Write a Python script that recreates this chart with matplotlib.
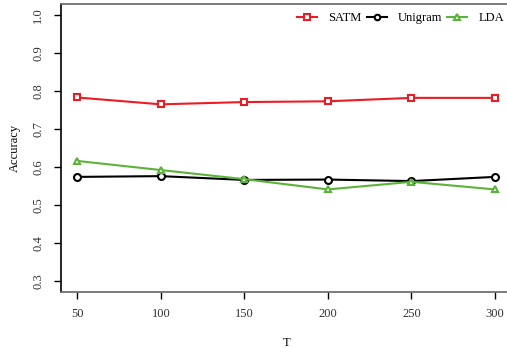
import matplotlib

matplotlib.use("Agg")
import matplotlib.pyplot as plt

plt.rcParams["font.family"] = ["Liberation Serif", "DejaVu Serif"]

T = [50, 100, 150, 200, 250, 300]
satm = [0.783, 0.765, 0.771, 0.773, 0.782, 0.782]
unigram = [0.574, 0.576, 0.566, 0.567, 0.563, 0.574]
lda = [0.616, 0.592, 0.568, 0.541, 0.561, 0.541]
yticks = [0.3, 0.4, 0.5, 0.6, 0.7, 0.8, 0.9, 1.0]

fig = plt.figure(figsize=(5.07, 3.48), dpi=100)
# axes runs a little past the right edge of the figure
ax = fig.add_axes([0.1197, 0.162, 0.8895, 0.8253])

style = dict(lw=1.5, ms=5, mew=1.5, mfc="white")
ax.plot(T, satm, color="#ec1c24", marker="s", label="SATM", **style)
ax.plot(T, unigram, color="black", marker="o", label="Unigram", **style)
ax.plot(T, lda, color="#5bb33a", marker="^", label="LDA", **style)

ax.set_xlim(40, 310)
ax.set_ylim(0.272, 1.028)
ax.set_xticks(T)
ax.set_xticklabels([str(t) for t in T])
ax.set_yticks(yticks)
ax.set_yticklabels([f"{v:.1f}" for v in yticks], rotation=90, va="center")
ax.tick_params(length=5, width=1, labelsize=9, labelcolor="#333333", pad=7)

for side in ("top", "right", "bottom"):
    ax.spines[side].set_color("#666666")
ax.spines["left"].set_color("black")
for sp in ax.spines.values():
    sp.set_linewidth(1.2)

ax.set_xlabel("T", fontsize=9, labelpad=12)
ax.set_ylabel("Accuracy", fontsize=9, labelpad=8)

ax.legend(loc="upper right", bbox_to_anchor=(1.008, 1.012), ncol=3, frameon=False,
          fontsize=9, handlelength=1.6, handletextpad=0.9, columnspacing=0.4,
          markerscale=0.8)

fig.savefig("out.png", dpi=100)
